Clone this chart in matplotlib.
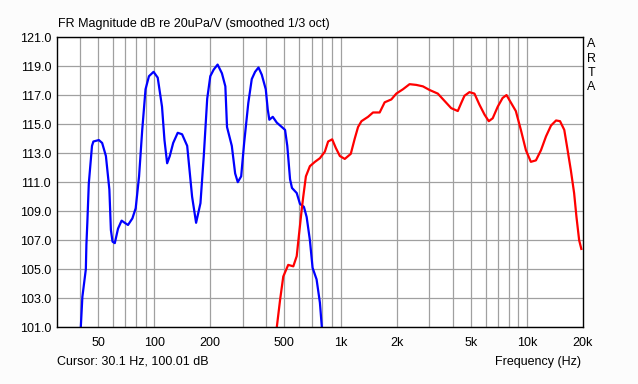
import numpy as np
import matplotlib
matplotlib.use("Agg")
import matplotlib.pyplot as plt
from matplotlib.ticker import FixedLocator, NullFormatter

plt.rcParams['font.family'] = ['Liberation Sans', 'DejaVu Sans']

# woofer (blue)
woofer_f = [30.0, 30.2, 35.0, 40.4, 41.2, 43.0, 43.3, 43.8, 44.6, 46.4, 47.2, 50.5, 52.6,
            55.1, 57.5, 58.6, 59.8, 61.5, 64.0, 66.9, 69.5, 72.4, 76.4, 79.6, 83.0,
            86.3, 89.9, 93.8, 99.3, 104.5, 110.2, 113.6, 117.4, 121.3, 126.5, 133.8,
            141.2, 150.4, 159.8, 167.9, 177.2, 184.6, 192.6, 200.1, 208.6, 219.0, 231.0,
            241.0, 246.0, 261.0, 272.0, 281.0, 293.0, 304.0, 320.0, 334.0, 348.0, 363.0,
            378.0, 397.0, 407.0, 415.0, 433.0, 455.0, 484.0, 504.0, 518.0, 536.0, 549.0,
            582.0, 606.0, 636.0, 658.0, 685.0, 708.0, 744.0, 775.0, 794.0, 820.0]
woofer_db = [102.1, 99.5, 97.0, 101.0, 103.1, 105.0, 106.7, 108.2, 110.9, 113.5, 113.8, 113.9, 113.7,
             112.8, 110.5, 107.7, 106.9, 106.8, 107.8, 108.35, 108.2, 108.05, 108.5, 109.2, 111.4,
             114.6, 117.4, 118.3, 118.6, 118.2, 116.2, 113.9, 112.3, 112.8, 113.7, 114.4,
             114.3, 113.5, 110.0, 108.2, 109.55, 112.8, 116.75, 118.3, 118.75, 119.1, 118.5,
             117.6, 114.8, 113.5, 111.6, 111.0, 111.4, 113.7, 116.45, 118.1, 118.6, 118.9,
             118.4, 117.4, 116.0, 115.3, 115.5, 115.1, 114.8, 114.6, 113.5, 111.2, 110.6,
             110.25, 109.5, 109.3, 108.6, 107.0, 105.1, 104.3, 102.7, 101.0, 99.0]

# tweeter (red)
tweeter_f = [430.0, 455.0, 474.0, 493.0, 524.0, 558.0, 582.0, 600.0, 619.0, 631.0, 652.0, 685.0,
             729.0, 775.0, 824.0, 858.0, 902.0, 944.0, 992.0, 1054.0, 1135.0, 1192.0, 1242.0,
             1295.0, 1405.0, 1494.0, 1622.0, 1725.0, 1874.0, 1992.0, 2163.0, 2347.0, 2548.0,
             2767.0, 3003.0, 3327.0, 3613.0, 3923.0, 4258.0, 4442.0, 4624.0, 4917.0, 5230.0,
             5558.0, 5926.0, 6244.0, 6554.0, 6975.0, 7407.0, 7775.0, 8104.0, 8721.0, 9283.0,
             9879.0, 10500.0, 11180.0, 11900.0, 12660.0, 13470.0, 14340.0, 15060.0, 15870.0,
             16540.0, 17220.0, 17920.0, 18450.0, 19070.0, 19590.0]
tweeter_db = [99.5, 101.0, 102.9, 104.5, 105.3, 105.2, 105.9, 107.5, 109.1, 110.0, 111.4, 112.1,
              112.4, 112.65, 113.1, 113.8, 113.95, 113.35, 112.8, 112.6, 112.95, 114.0, 114.8,
              115.2, 115.5, 115.8, 115.8, 116.5, 116.7, 117.1, 117.4, 117.75, 117.7,
              117.6, 117.35, 117.1, 116.6, 116.1, 115.9, 116.45, 116.95, 117.2, 117.1,
              116.35, 115.65, 115.2, 115.4, 116.2, 116.8, 117.0, 116.6, 115.9, 114.6,
              113.2, 112.4, 112.5, 113.2, 114.15, 114.9, 115.25, 115.2, 114.6,
              113.2, 111.8, 110.25, 108.6, 107.0, 106.4]

x_ticks = [50, 100, 200, 500, 1000, 2000, 5000, 10000, 20000]
x_labels = ['50', '100', '200', '500', '1k', '2k', '5k', '10k', '20k']
y_ticks = np.arange(101, 122, 2)

bg = '#FCFCFC'
fig = plt.figure(figsize=(6.38, 3.84), dpi=100, facecolor=bg)
ax = fig.add_axes([56.7 / 638, 1 - 327.3 / 384, (583 - 56.7) / 638, (327.3 - 37) / 384])
ax.set_facecolor('white')

ax.plot(woofer_f, woofer_db, color='#0000FF', lw=1.6, zorder=3)
ax.plot(tweeter_f, tweeter_db, color='#FF0000', lw=1.6, zorder=3)

ax.set_xscale('log')
ax.set_xlim(30, 20000)
ax.set_ylim(101, 121)

grid_f = [f for d in [10, 100, 1000, 10000] for f in np.arange(1, 10) * d if 30 < f < 20000]
ax.xaxis.set_major_locator(FixedLocator(x_ticks))
ax.xaxis.set_minor_locator(FixedLocator(grid_f))
ax.xaxis.set_minor_formatter(NullFormatter())
ax.set_xticklabels(x_labels)
ax.set_yticks(y_ticks)
ax.set_yticklabels([f'{v:.1f}' for v in y_ticks])
ax.tick_params(which='both', length=0, labelsize=9, pad=7)
ax.tick_params(axis='y', pad=4)

for f in grid_f:
    ax.axvline(f, color='#A0A0A0', lw=0.9, zorder=1)
for v in y_ticks:
    ax.axhline(v, color='#A0A0A0', lw=0.9, zorder=1)

for s in ax.spines.values():
    s.set_linewidth(1.0)
    s.set_color('black')
    s.set_zorder(4)

fig.text(58 / 638, 1 - 24 / 384, 'FR Magnitude dB re 20uPa/V (smoothed 1/3 oct)',
         fontsize=9, va='center', ha='left')
for i, ch in enumerate('ARTA'):
    fig.text(591.5 / 638, 1 - (44 + i * 14.5) / 384, ch, fontsize=9, ha='center', va='center')
fig.text(57 / 638, 1 - 362 / 384, 'Cursor: 30.1 Hz, 100.01 dB', fontsize=9, va='center', ha='left')
fig.text(581 / 638, 1 - 362 / 384, 'Frequency (Hz)', fontsize=9, va='center', ha='right')

fig.savefig('out.png', dpi=100, facecolor=bg)
